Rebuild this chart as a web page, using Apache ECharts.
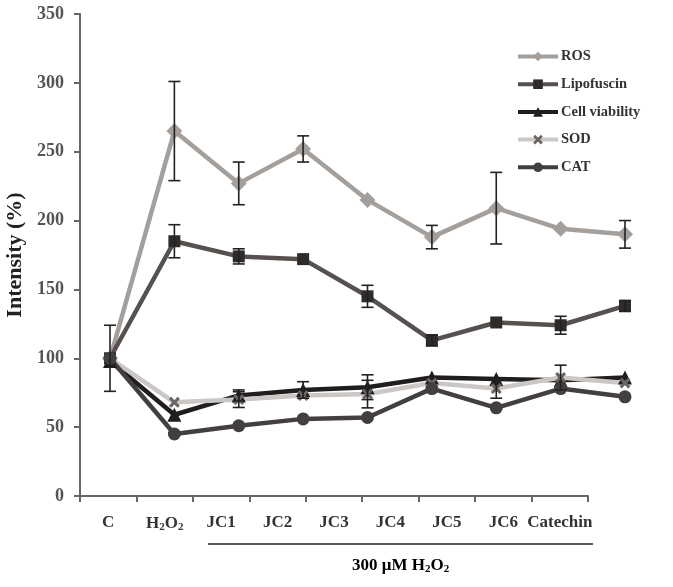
<!DOCTYPE html>
<html>
<head>
<meta charset="utf-8">
<script src="https://cdn.jsdelivr.net/npm/echarts@6/dist/echarts.min.js"></script>
<style>
    html, body { margin: 0; padding: 0; background: #fff; }
    #chart { width: 673px; height: 587px; }
</style>
</head>
<body>
<div id="chart"></div>
<script>
    // categories along x
    var categories = ['C', 'H2O2', 'JC1', 'JC2', 'JC3', 'JC4', 'JC5', 'JC6', 'Catechin'];
    var yTicks = [0, 50, 100, 150, 200, 250, 300, 350];

    // series values (%)
    var ros = [100, 265, 227, 252, 215, 188, 209, 194, 190];
    var lipofuscin = [100, 185, 174, 172, 145, 113, 126, 124, 138];
    var cellViability = [98, 59, 73, 77, 79, 86, 85, 84, 86];
    var sod = [100, 68, 70, 73, 74, 82, 78, 86, 82];
    var cat = [100, 45, 51, 56, 57, 78, 64, 78, 72];

    // error bars (+/-), 0 = none drawn
    var rosErr = [24, 36, 15.5, 9.5, 0, 8.5, 26, 0, 10];
    var lipofuscinErr = [0, 12, 5.5, 0, 8, 4, 0, 6.5, 4];
    var cellViabilityErr = [0, 0, 4, 6, 9, 0, 0, 0, 0];
    var sodErr = [0, 0, 5.7, 0, 10, 0, 7, 9, 0];
    var catErr = [0, 0, 0, 0, 0, 0, 0, 0, 0];

    var serif = '"Liberation Serif", "DejaVu Serif", serif';

    // cross symbol for SOD
    var crossPath = 'path://M2,0 L5,3 L8,0 L10,2 L7,5 L10,8 L8,10 L5,7 L2,10 L0,8 L3,5 L0,2 Z';

    function errData(vals, errs) {
        var out = [];
        for (var i = 0; i < vals.length; i++) {
            if (errs[i] > 0) out.push([i, vals[i], errs[i]]);
        }
        return out;
    }

    function renderErr(params, api) {
        var x = api.value(0), y = api.value(1), e = api.value(2);
        var top = api.coord([x, y + e]);
        var bot = api.coord([x, y - e]);
        var hw = 6;
        var st = { stroke: '#222', lineWidth: 1.6 };
        return {
            type: 'group',
            children: [
                { type: 'line', shape: { x1: top[0], y1: top[1], x2: bot[0], y2: bot[1] }, style: st },
                { type: 'line', shape: { x1: top[0] - hw, y1: top[1], x2: top[0] + hw, y2: top[1] }, style: st },
                { type: 'line', shape: { x1: bot[0] - hw, y1: bot[1], x2: bot[0] + hw, y2: bot[1] }, style: st }
            ]
        };
    }

    function lineSeries(name, data, color, markColor, symbol, size) {
        return {
            name: name,
            type: 'line',
            xAxisIndex: 1,
            yAxisIndex: 1,
            data: data,
            symbol: symbol,
            symbolSize: size,
            showSymbol: true,
            lineStyle: { color: color, width: 4.5 },
            itemStyle: { color: markColor, opacity: 1 },
            emphasis: { disabled: true },
            z: 3
        };
    }

    function errSeries(vals, errs) {
        return {
            type: 'custom',
            xAxisIndex: 1,
            yAxisIndex: 1,
            data: errData(vals, errs),
            renderItem: renderErr,
            silent: true,
            z: 4
        };
    }

    var labelRich = {
        b: { fontFamily: serif, fontWeight: 'bold', fontSize: 17, color: '#333' },
        s: { fontFamily: serif, fontWeight: 'bold', fontSize: 11, color: '#333', padding: [8, 0, 0, 0] }
    };

    var myChart = echarts.init(document.getElementById('chart'));
    var option = {
        backgroundColor: '#fff',
        animation: false,
        legend: {
            orient: 'vertical',
            left: 511,
            top: 44,
            itemWidth: 40,
            itemHeight: 12,
            itemGap: 12.7,
            lineStyle: { width: 4 },
            textStyle: { fontFamily: serif, fontWeight: 'bold', fontSize: 14.5, color: '#333', padding: [0, 0, 0, -2] },
            data: ['ROS', 'Lipofuscin', 'Cell viability', 'SOD', 'CAT']
        },
        grid: [
            { left: 80, right: 85, top: 14, bottom: 91, outerBoundsMode: 'none', containLabel: false },
            { left: 110, right: 48, top: 14, bottom: 91, outerBoundsMode: 'none', containLabel: false }
        ],
        xAxis: [
            {
                type: 'category',
                gridIndex: 0,
                data: categories,
                boundaryGap: true,
                axisLine: { lineStyle: { color: '#666', width: 2 } },
                axisTick: { show: true, length: 6, lineStyle: { color: '#666', width: 2 } },
                axisLabel: {
                    margin: 18,
                    interval: 0,
                    formatter: function (v) {
                        if (v === 'H2O2') return '{b|H}{s|2}{b|O}{s|2}';
                        return '{b|' + v + '}';
                    },
                    rich: labelRich
                }
            },
            {
                type: 'category',
                gridIndex: 1,
                data: categories,
                boundaryGap: false,
                show: false
            }
        ],
        yAxis: [
            {
                type: 'value',
                gridIndex: 0,
                min: yTicks[0],
                max: yTicks[yTicks.length - 1],
                interval: 50,
                name: 'Intensity (%)',
                nameLocation: 'middle',
                nameRotate: 90,
                nameGap: 50,
                nameTextStyle: { fontFamily: serif, fontWeight: 'bold', fontSize: 22, color: '#222' },
                splitLine: { show: false },
                axisLine: { show: true, lineStyle: { color: '#666', width: 2 } },
                axisTick: { show: true, length: 6, lineStyle: { color: '#666', width: 2 } },
                axisLabel: { margin: 16, fontFamily: serif, fontWeight: 'bold', fontSize: 18, color: '#555' }
            },
            {
                type: 'value',
                gridIndex: 1,
                min: yTicks[0],
                max: yTicks[yTicks.length - 1],
                show: false,
                splitLine: { show: false }
            }
        ],
        graphic: [
            {
                type: 'line',
                shape: { x1: 208, y1: 544, x2: 593, y2: 544 },
                style: { stroke: '#222', lineWidth: 1.5 }
            },
            {
                type: 'text',
                left: 352,
                top: 557,
                style: {
                    text: '{b|300 μM H}{s|2}{b|O}{s|2}',
                    rich: labelRich
                }
            }
        ],
        series: [
            lineSeries('ROS', ros, '#a59f9b', '#a59f9b', 'diamond', 16),
            lineSeries('Lipofuscin', lipofuscin, '#56514f', '#2e2b2a', 'rect', 12),
            lineSeries('Cell viability', cellViability, '#1f1d1d', '#1f1d1d', 'triangle', 14),
            lineSeries('SOD', sod, '#cbc7c5', '#6a6563', crossPath, 11),
            lineSeries('CAT', cat, '#433f3e', '#433f3e', 'circle', 13),
            errSeries(ros, rosErr),
            errSeries(lipofuscin, lipofuscinErr),
            errSeries(cellViability, cellViabilityErr),
            errSeries(sod, sodErr),
            errSeries(cat, catErr)
        ]
    };
    myChart.setOption(option);
</script>
</body>
</html>
